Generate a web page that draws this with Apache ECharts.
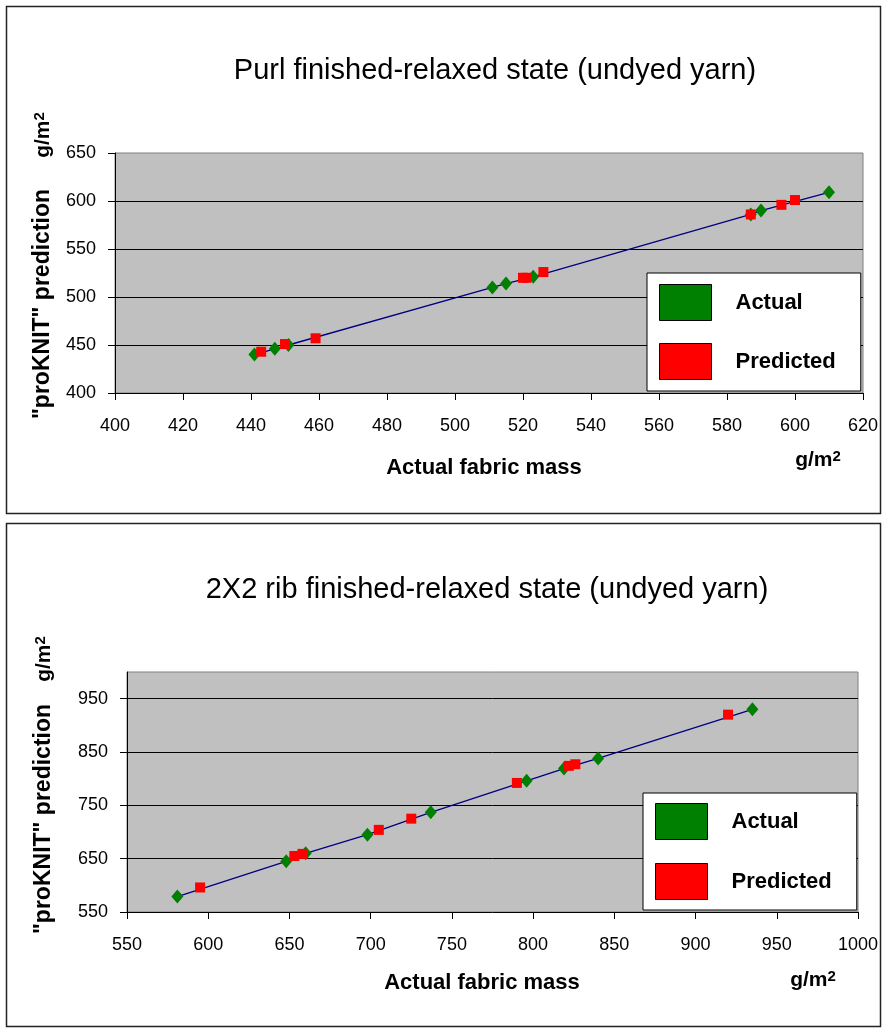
<!DOCTYPE html>
<html><head><meta charset="utf-8">
<script src="https://cdn.jsdelivr.net/npm/echarts@6/dist/echarts.min.js"></script>
<style>html,body{margin:0;padding:0;background:#fff}#c{width:885px;height:1030px}</style>
</head><body><div id="c"></div>
<script>
// ---------- data ----------
const seriesNames = ['Actual', 'Predicted'];

const purlTitle = 'Purl finished-relaxed state (undyed yarn)';
const purlXTicks = [400, 420, 440, 460, 480, 500, 520, 540, 560, 580, 600, 620];
const purlYTicks = [400, 450, 500, 550, 600, 650];
const purlActualX = [441, 447, 451, 511, 515, 523, 587, 590, 610];
const purlActualY = [440, 446, 450, 510, 514, 521, 586, 590, 609];
const purlPredX = [443, 450, 459, 520, 521, 526, 587, 596, 600];
const purlPredY = [443, 451, 457, 520, 520, 526, 586, 596, 601];

const ribTitle = '2X2 rib finished-relaxed state (undyed yarn)';
const ribXTicks = [550, 600, 650, 700, 750, 800, 850, 900, 950, 1000];
const ribYTicks = [550, 650, 750, 850, 950];
const ribYMax = 1000;
const ribActualX = [581, 648, 660, 698, 737, 796, 819, 840, 935];
const ribActualY = [579, 645, 660, 695, 737, 796, 819, 838, 930];
const ribPredX = [595, 653, 658, 705, 725, 790, 822, 826, 920];
const ribPredY = [596, 655, 659, 704, 725, 792, 824, 827, 920];

const xName = 'Actual fabric mass';
const yName = '"proKNIT" prediction';
const unit = 'g/m';
const unitSup = '2';

// ---------- helpers ----------
const FONT = 'Liberation Sans, Arial, sans-serif';
const pairs = (xs, ys) => xs.map((x, i) => [x, ys[i]]);

function xAxis(gi, ticks) {
  return {
    gridIndex: gi, type: 'value',
    min: ticks[0], max: ticks[ticks.length - 1], interval: ticks[1] - ticks[0],
    axisLine: { show: true, onZero: false, lineStyle: { color: '#000', width: 1 } },
    axisTick: { show: true, length: 7, lineStyle: { color: '#000' } },
    axisLabel: { color: '#000', fontSize: 18, fontFamily: FONT, margin: 24, formatter: v => String(v) },
    splitLine: { show: false }
  };
}
function yAxis(gi, ticks, max) {
  return {
    gridIndex: gi, type: 'value',
    min: ticks[0], max: max, interval: ticks[1] - ticks[0],
    axisLine: { show: true, onZero: false, lineStyle: { color: '#000', width: 1 } },
    axisTick: { show: true, length: 7, lineStyle: { color: '#000' } },
    axisLabel: { color: '#000', fontSize: 18, fontFamily: FONT, margin: 19, formatter: v => String(v),
                 showMaxLabel: ticks[ticks.length - 1] === max },
    splitLine: { show: true, showMinLine: false, showMaxLine: false,
                 lineStyle: { color: '#000', width: 1 } }
  };
}
function legend(left, top, gap, pad) {
  return {
    data: seriesNames.map(n => ({ name: n, icon: 'rect' })),
    orient: 'vertical', left: left, top: top,
    itemWidth: 52, itemHeight: 36, itemGap: gap,
    padding: pad, backgroundColor: '#fff', borderColor: '#000', borderWidth: 1,
    itemStyle: { borderColor: '#000', borderWidth: 1, opacity: 1 },
    textStyle: { fontFamily: FONT, fontWeight: 'bold', fontSize: 22, color: '#000', padding: [0, 0, 0, 19] },
    selectedMode: false
  };
}
function seriesFor(i, ax, ay, px, py) {
  return [
    { type: 'line', name: 'line' + i, xAxisIndex: i, yAxisIndex: i, data: pairs(ax, ay),
      symbol: 'none', lineStyle: { color: '#000080', width: 1.3 }, z: 2, silent: true },
    { type: 'scatter', name: seriesNames[0], xAxisIndex: i, yAxisIndex: i, data: pairs(ax, ay),
      symbol: 'diamond', symbolSize: [12, 14], itemStyle: { color: '#008000', opacity: 1 }, z: 3 },
    { type: 'scatter', name: seriesNames[1], xAxisIndex: i, yAxisIndex: i, data: pairs(px, py),
      symbol: 'rect', symbolSize: 10, itemStyle: { color: '#ff0000', opacity: 1 }, z: 4 }
  ];
}
const richUnit = {
  a: { fontFamily: FONT, fontWeight: 'bold', fontSize: 21, lineHeight: 22, verticalAlign: 'bottom', fill: '#000' },
  s: { fontFamily: FONT, fontWeight: 'bold', fontSize: 15, lineHeight: 15, verticalAlign: 'top', padding: [0, 0, 12, 0], fill: '#000' }
};
function unitText(x, y, rot) {
  return { type: 'text', x: x, y: y, rotation: rot || 0, style: {
    text: '{a|' + unit + '}{s|' + unitSup + '}', rich: richUnit, align: 'center', verticalAlign: 'middle' } };
}
function yLabel(x, y) {
  return { type: 'text', x: x, y: y, rotation: Math.PI / 2, style: {
    text: yName, fontFamily: FONT, fontWeight: 'bold', fontSize: 23, fill: '#000',
    align: 'center', verticalAlign: 'middle' } };
}
function title(text, x, y) {
  return { type: 'text', x: x, y: y, style: { text: text, fontFamily: FONT, fontSize: 29,
    fill: '#000', align: 'center', verticalAlign: 'middle' } };
}
function xLabel(x, y) {
  return { type: 'text', x: x, y: y, style: { text: xName, fontFamily: FONT, fontWeight: 'bold',
    fontSize: 22, fill: '#000', align: 'center', verticalAlign: 'middle' } };
}

const chart = echarts.init(document.getElementById('c'), null, { renderer: 'canvas' });
chart.setOption({
  animation: false,
  backgroundColor: '#fff',
  grid: [
    { left: 115, top: 153, width: 748, height: 240, show: true, backgroundColor: '#c0c0c0',
      borderColor: '#808080', borderWidth: 1, containLabel: false, outerBoundsMode: 'none' },
    { left: 127, top: 672, width: 731, height: 240, show: true, backgroundColor: '#c0c0c0',
      borderColor: '#808080', borderWidth: 1, containLabel: false, outerBoundsMode: 'none' }
  ],
  xAxis: [xAxis(0, purlXTicks), xAxis(1, ribXTicks)],
  yAxis: [yAxis(0, purlYTicks, purlYTicks[purlYTicks.length - 1]), yAxis(1, ribYTicks, ribYMax)],
  legend: [legend(647, 273, 22, [11, 25, 11, 12]), legend(643, 793, 23, [10, 25, 10, 12])],
  series: [].concat(
    seriesFor(0, purlActualX, purlActualY, purlPredX, purlPredY),
    seriesFor(1, ribActualX, ribActualY, ribPredX, ribPredY)
  ),
  graphic: [
    { type: 'rect', shape: { x: 6.5, y: 6.5, width: 874, height: 507 }, style: { fill: 'none', stroke: '#222', lineWidth: 1.5 }, z: -10 },
    { type: 'rect', shape: { x: 6.5, y: 523.5, width: 874, height: 503 }, style: { fill: 'none', stroke: '#222', lineWidth: 1.5 }, z: -10 },
    title(purlTitle, 495, 71),
    title(ribTitle, 487, 590),
    xLabel(484, 468),
    xLabel(482, 983),
    unitText(818, 460),
    unitText(813, 980),
    yLabel(43, 304),
    yLabel(44, 819),
    unitText(43, 135, Math.PI / 2),
    unitText(44, 659, Math.PI / 2)
  ]
});
</script>
</body></html>
